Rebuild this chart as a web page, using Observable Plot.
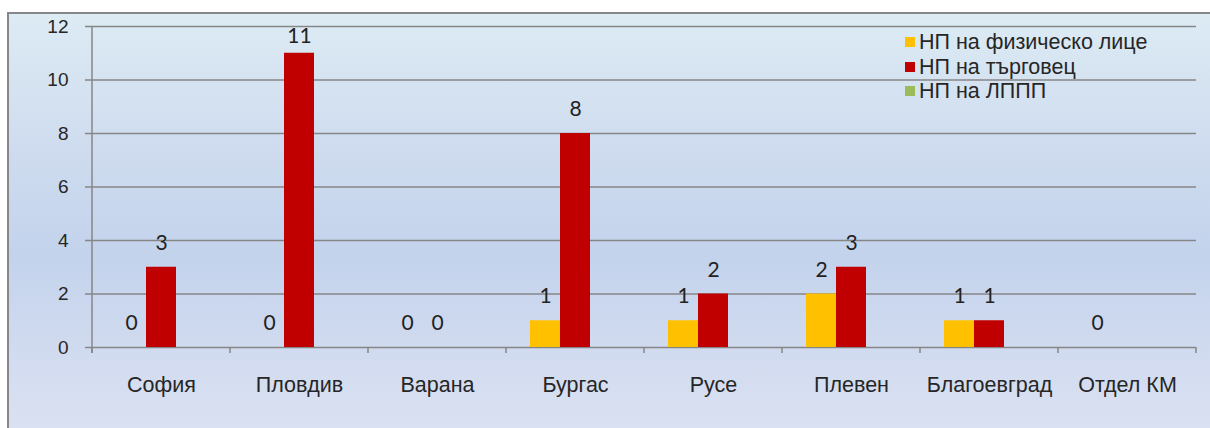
<!DOCTYPE html>
<html>
<head>
<meta charset="utf-8">
<script src="https://cdn.jsdelivr.net/npm/d3@7"></script>
<script src="https://cdn.jsdelivr.net/npm/@observablehq/plot@0.6"></script>
<style>
  html, body { margin: 0; padding: 0; background: #fff; }
  #wrap { position: relative; width: 1210px; height: 428px; overflow: hidden; background: #fff; }
  #bg { position: absolute; left: 7px; top: 12px; width: 1220px; height: 440px;
        border-left: 2px solid #878787; border-top: 2px solid #878787;
        background: linear-gradient(to bottom, #dcebf4 0%, #cfdcef 30%, #c3d3ec 55%, #d3dcf0 80%, #dde3f3 100%); }
  #chart { position: absolute; left: 0; top: 0; }
  #legend { position: absolute; left: 905px; top: 30px; font-family: "Liberation Sans", Arial, sans-serif;
            font-size: 21.5px; color: #262626; line-height: 24.5px; }
  #legend .row { display: flex; align-items: center; white-space: nowrap; }
  #legend .sw { width: 10px; height: 10px; margin-right: 4px; flex: none; }
</style>
</head>
<body>
<div id="wrap">
  <div id="bg"></div>
  <div id="chart"></div>
  <div id="legend"></div>
</div>
<script>
const categories = ["София", "Пловдив", "Варана", "Бургас", "Русе", "Плевен", "Благоевград", "Отдел КМ"];
const seriesNames = ["НП на физическо лице", "НП на търговец", "НП на ЛППП"];
const physicalPerson = [0, 0, 0, 1, 1, 2, 1, 0];
const trader = [3, 11, 0, 8, 2, 3, 1, null];
const lppp = [null, null, null, null, null, null, null, null];
const yTicks = [0, 2, 4, 6, 8, 10, 12];
const seriesColors = ["#FFC000", "#C00000", "#9BBB59"];

const seriesValues = [physicalPerson, trader, lppp];
const rows = categories.flatMap((c, i) =>
  seriesValues.map((arr, j) => ({ category: c, series: seriesNames[j], value: arr[i] }))
);

const gridColor = "#868686";
const textColor = "#262626";
// data labels are kept inside the plot area (as the spreadsheet does)
const labelMax = 10.75;

const hasAxisMarks = typeof Plot.axisY === "function" && typeof Plot.axisFx === "function";

const marks = [
  Plot.ruleY(yTicks, { stroke: gridColor, strokeWidth: 1.5 }),
  Plot.barY(rows.filter(d => d.value != null && d.value > 0), {
    fx: "category", x: "series", y: "value", fill: "series"
  }),
  Plot.text(rows.filter(d => d.value != null), {
    fx: "category", x: "series", y: d => Math.min(d.value, labelMax), text: d => String(d.value),
    dy: -24, fontSize: 21, fontFamily: "Lato, 'Open Sans', sans-serif", fill: "#222"
  })
];
if (hasAxisMarks) {
  marks.push(
    Plot.axisY(yTicks, { anchor: "left", tickSize: 7, tickPadding: 17, fontSize: 19, label: null, stroke: gridColor, strokeWidth: 1.5, fill: textColor }),
    Plot.axisFx({ anchor: "bottom", tickSize: 0, tickPadding: 29, fontSize: 21.5, label: null, fill: textColor })
  );
}

const plot = Plot.plot({
  width: 1210,
  height: 428,
  marginLeft: 90,
  marginRight: 12,
  marginTop: 26,
  marginBottom: 81,
  style: { background: "transparent", fontFamily: "'Liberation Sans', Arial, sans-serif", fontSize: "21.5px", color: textColor, overflow: "visible" },
  fx: hasAxisMarks ? { domain: categories, padding: 0, label: null, axis: null }
                   : { domain: categories, padding: 0, label: null, axis: "bottom", tickSize: 0, tickPadding: 29 },
  x: { domain: seriesNames, paddingInner: 0, paddingOuter: 0.73, axis: null },
  y: hasAxisMarks ? { domain: [0, 12], label: null, axis: null }
                  : { domain: [0, 12], ticks: yTicks, label: null, tickSize: 7, tickPadding: 17 },
  color: { domain: seriesNames, range: seriesColors },
  marks
});

document.getElementById("chart").appendChild(plot);

const svg = d3.select(plot.tagName.toLowerCase() === "svg" ? plot : plot.querySelector("svg"));

// Axis line and category boundary ticks from the plot's own scales
const fxs = plot.scale("fx");
const ys = plot.scale("y");
const yApply = v => ys.apply ? ys.apply(v) : (ys.range[0] + (v - ys.domain[0]) / (ys.domain[1] - ys.domain[0]) * (ys.range[1] - ys.range[0]));
const fxApply = c => fxs.apply ? fxs.apply(c) : (fxs.range[0] + categories.indexOf(c) * fxs.step);
const y0 = yApply(0), yTop = yApply(12);
const bounds = categories.map(c => fxApply(c));
bounds.push(fxApply(categories[categories.length - 1]) + fxs.bandwidth);
const g = svg.append("g").attr("stroke", gridColor).attr("stroke-width", 1.5);
g.append("line").attr("x1", bounds[0]).attr("x2", bounds[0]).attr("y1", yTop).attr("y2", y0 + 6);
bounds.forEach(b => g.append("line").attr("x1", b).attr("x2", b).attr("y1", y0).attr("y2", y0 + 6));

// Legend
const legend = d3.select("#legend");
seriesNames.forEach((s, i) => {
  const r = legend.append("div").attr("class", "row");
  r.append("div").attr("class", "sw").style("background", seriesColors[i]);
  r.append("span").text(s);
});
</script>
</body>
</html>
